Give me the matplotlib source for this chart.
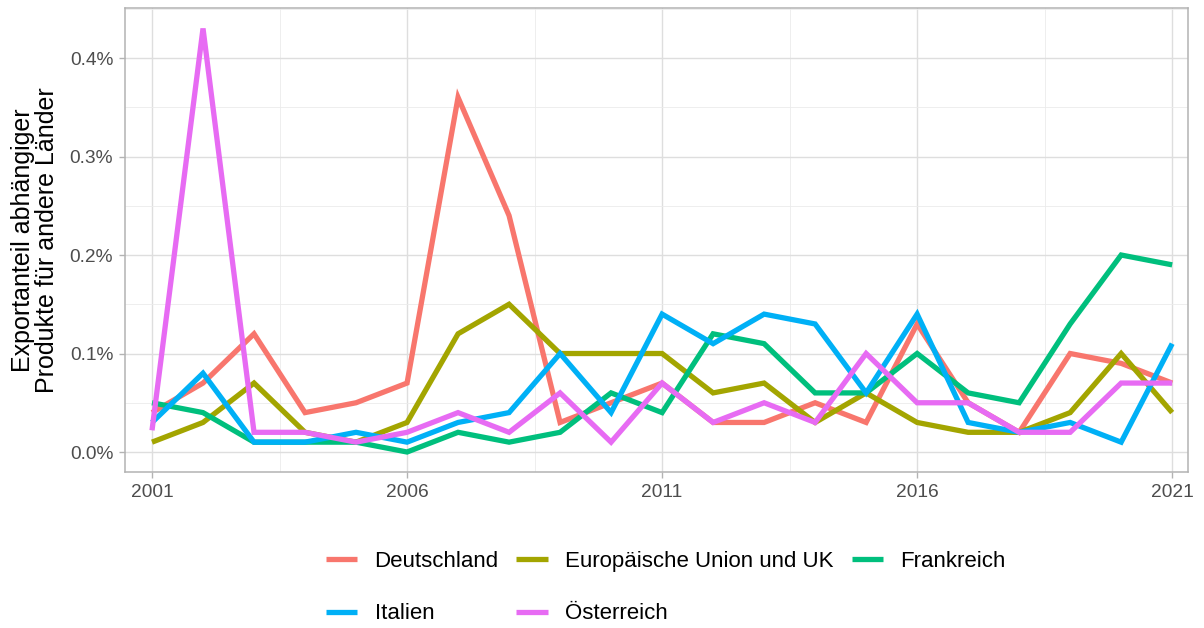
import matplotlib
matplotlib.use("Agg")
import matplotlib.pyplot as plt
from matplotlib.ticker import FuncFormatter, MultipleLocator, FixedLocator

plt.rcParams['font.family'] = ['Liberation Sans', 'DejaVu Sans']

# Exportanteil (in %)
years = list(range(2001, 2022))
deutschland = [0.04, 0.07, 0.12, 0.04, 0.05, 0.07, 0.36, 0.24, 0.03, 0.05, 0.07,
               0.03, 0.03, 0.05, 0.03, 0.13, 0.05, 0.02, 0.10, 0.09, 0.07]
eu_uk = [0.01, 0.03, 0.07, 0.02, 0.01, 0.03, 0.12, 0.15, 0.10, 0.10, 0.10,
         0.06, 0.07, 0.03, 0.06, 0.03, 0.02, 0.02, 0.04, 0.10, 0.04]
frankreich = [0.05, 0.04, 0.01, 0.01, 0.01, 0.00, 0.02, 0.01, 0.02, 0.06, 0.04,
              0.12, 0.11, 0.06, 0.06, 0.10, 0.06, 0.05, 0.13, 0.20, 0.19]
italien = [0.03, 0.08, 0.01, 0.01, 0.02, 0.01, 0.03, 0.04, 0.10, 0.04, 0.14,
           0.11, 0.14, 0.13, 0.06, 0.14, 0.03, 0.02, 0.03, 0.01, 0.11]
oesterreich = [0.022, 0.43, 0.02, 0.02, 0.01, 0.02, 0.04, 0.02, 0.06, 0.01, 0.07,
               0.03, 0.05, 0.03, 0.10, 0.05, 0.05, 0.02, 0.02, 0.07, 0.07]

x_ticks = [2001, 2006, 2011, 2016, 2021]

series = [
    ("Deutschland", deutschland, "#F8766D"),
    ("Europäische Union und UK", eu_uk, "#A3A500"),
    ("Frankreich", frankreich, "#00BF7D"),
    ("Italien", italien, "#00B0F6"),
    ("Österreich", oesterreich, "#E76BF3"),
]

fig = plt.figure(figsize=(12.04, 6.28), dpi=100)
ax = fig.add_axes([0.1038, 0.2484, 0.8829, 0.7389])

lines = {}
for name, vals, col in series:
    ln, = ax.plot(years, vals, color=col, lw=3.8, solid_joinstyle='miter',
                  solid_capstyle='butt', label=name)
    lines[name] = ln

ax.set_xlim(2000.47, 2021.31)
ax.set_ylim(-0.0203, 0.4508)
ax.xaxis.set_major_locator(FixedLocator(x_ticks))
ax.xaxis.set_minor_locator(FixedLocator([t + 2.5 for t in x_ticks[:-1]]))
ax.yaxis.set_major_locator(MultipleLocator(0.1))
ax.yaxis.set_minor_locator(MultipleLocator(0.05))
ax.yaxis.set_major_formatter(FuncFormatter(lambda v, p: f"{v:.1f}%"))
ax.xaxis.set_major_formatter(FuncFormatter(lambda v, p: f"{int(round(v))}"))

ax.grid(which='major', color='#DEDEDE', lw=1.0)
ax.grid(which='minor', color='#EBEBEB', lw=0.6)
ax.set_axisbelow(True)
for sp in ax.spines.values():
    sp.set_color('#B3B3B3')
    sp.set_linewidth(1.1)
ax.tick_params(which='major', color='#B3B3B3', length=4.5, width=1.0,
               labelcolor='#4D4D4D', labelsize=13.8, pad=4)
ax.tick_params(which='minor', length=0)

ax.set_ylabel("Exportanteil abhängiger\nProdukte für andere Länder",
              fontsize=18, color='black', labelpad=8, linespacing=1.0)

# legend: row 1 = D, EU, F ; row 2 = I, Ö (matplotlib fills column-wise)
order = ["Deutschland", "Italien", "Europäische Union und UK", "Österreich", "Frankreich"]
leg = fig.legend([lines[n] for n in order], order, loc='center',
                 bbox_to_anchor=(0.553, 0.064), ncol=3, frameon=False,
                 fontsize=16, handlelength=1.4, handletextpad=0.8,
                 columnspacing=0.8, labelspacing=1.4)

fig.savefig("out.png", dpi=100)
